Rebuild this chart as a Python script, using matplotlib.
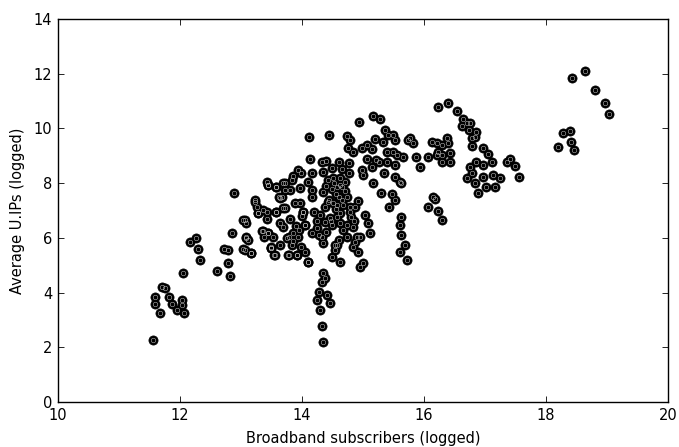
import matplotlib
matplotlib.use("Agg")
import matplotlib.pyplot as plt

# Broadband subscribers (logged)
subscribers = [
    11.56, 11.59, 11.59, 11.67, 11.70, 11.75, 11.82, 11.87, 11.95, 12.03,
    12.03, 12.07, 12.05, 12.16, 12.26, 12.30, 12.33, 12.60, 12.72, 12.79,
    12.79, 12.82, 12.85, 12.89, 13.04, 13.08, 13.09, 13.11, 13.04, 13.16,
    13.23, 13.26, 13.28, 13.36, 13.42, 13.42, 13.44, 13.36, 13.44, 13.50,
    13.54, 13.58, 13.58, 13.62, 13.69, 13.72, 13.77, 13.91, 14.02, 14.05,
    14.10,
    # central mass
    15.16, 15.28, 14.94, 14.12, 14.44, 14.74, 14.79, 14.76, 14.84, 14.98,
    15.06, 15.14, 15.20, 15.33, 15.36, 15.41, 15.50, 15.52, 15.74, 15.39,
    15.50, 15.55, 15.66, 15.06, 15.22, 15.27, 15.39, 15.52, 14.13, 14.32,
    14.39, 14.49, 14.60, 14.65, 14.77, 14.77, 14.35, 14.17, 13.94, 13.99,
    13.86, 13.83, 14.98, 15.00, 15.14, 15.34, 15.52, 15.60, 15.17, 15.30,
    15.47, 15.52, 15.43, 13.44, 13.58, 13.69, 13.72, 13.80, 13.97, 14.10,
    14.16, 14.16, 14.35, 14.43, 14.51, 14.62, 14.57, 13.67, 13.64, 13.23,
    13.28, 13.42, 13.07, 13.58, 13.72, 13.89, 13.97, 14.02, 14.30, 14.38,
    14.43, 14.51, 14.60, 14.65, 14.68, 14.73, 14.79, 14.87, 14.79, 14.81,
    15.03, 14.57, 14.46, 14.38, 14.49, 14.62, 14.73, 14.84, 15.09, 15.11,
    14.95, 14.90, 14.73, 14.60, 14.54, 14.24, 14.32, 14.16, 14.05, 13.94,
    13.86, 13.78, 13.69, 13.64, 13.53, 13.45, 13.34, 13.37, 13.09, 13.64,
    13.83, 13.99, 13.50, 15.60, 15.63, 15.69,
    # extra points in the dense block
    14.50, 14.55, 14.62, 14.70, 14.45, 14.58, 14.66, 14.52, 14.40, 14.70,
    14.63, 14.48, 14.56, 13.75, 13.85, 13.95, 13.80, 13.90, 14.00, 14.20,
    14.25, 14.40, 14.28, 14.68, 14.85, 14.92,
    # vertical tail near 14.3
    14.35, 14.32, 14.38, 14.28, 14.41, 14.24, 14.46, 14.30, 14.32, 14.35,
    14.10, 14.95, 15.00, 15.60, 15.72, 13.07, 13.17, 13.50, 13.56, 13.78,
    13.91, 14.05, 14.35, 14.57, 14.54, 14.49, 14.62, 14.84, 14.92, 14.87,
    # right group
    16.23, 16.40, 16.54, 16.64, 16.70, 16.62, 16.75, 16.73, 16.86, 16.78,
    16.84, 16.78, 15.77, 15.82, 16.13, 16.21, 16.29, 16.37, 16.40, 16.23,
    16.29, 16.43, 16.21, 16.29, 16.43, 16.07, 15.87, 15.93, 16.96, 17.05,
    16.86, 16.97, 17.11, 16.75, 16.78, 16.70, 16.84, 16.97, 17.13, 17.25,
    17.02, 17.16, 16.89, 17.36, 17.41, 17.49, 17.55, 16.15, 16.18, 16.07,
    16.23, 16.29, 15.63, 15.63,
    # far right
    18.64, 18.43, 18.81, 18.96, 19.04, 18.28, 18.39, 18.41, 18.20, 18.46,
]

# Average U.IPs (logged)
avg_ips = [
    2.27, 3.85, 3.60, 3.24, 4.21, 4.16, 3.85, 3.58, 3.36, 3.73,
    3.55, 3.24, 4.71, 5.86, 6.00, 5.60, 5.19, 4.80, 5.59, 5.55,
    5.08, 4.60, 6.19, 7.65, 6.65, 6.53, 6.04, 5.92, 5.59, 5.44,
    7.32, 7.14, 6.92, 7.02, 6.69, 8.05, 7.93, 6.24, 6.19, 5.64,
    5.37, 7.87, 6.96, 7.50, 7.09, 8.00, 5.37, 5.37, 6.96, 6.47,
    5.13,
    10.45, 10.33, 10.24, 9.67, 9.76, 9.72, 9.56, 9.27, 9.15, 9.27,
    9.39, 9.23, 9.61, 9.52, 9.94, 9.76, 9.76, 9.58, 9.58, 9.15,
    9.15, 9.03, 8.97, 8.90, 8.84, 8.78, 8.78, 8.66, 8.87, 8.78,
    8.82, 8.54, 8.78, 8.50, 8.75, 8.38, 8.42, 8.38, 8.48, 8.36,
    8.26, 8.11, 8.48, 8.30, 8.58, 8.36, 8.24, 8.05, 7.99, 7.63,
    7.60, 7.38, 7.14, 7.93, 7.87, 8.02, 7.75, 7.75, 7.81, 8.05,
    7.75, 7.50, 7.69, 8.11, 8.17, 8.17, 7.87, 7.50, 7.44, 7.38,
    6.90, 6.96, 6.65, 6.96, 7.08, 7.26, 7.26, 6.96, 6.84, 7.14,
    7.32, 7.26, 7.50, 7.38, 7.20, 7.50, 7.14, 7.14, 6.96, 6.77,
    6.84, 6.77, 6.71, 6.59, 6.47, 6.53, 6.47, 6.41, 6.53, 6.16,
    6.04, 6.04, 6.04, 5.92, 5.74, 6.35, 6.04, 6.16, 6.47, 6.04,
    6.16, 6.04, 6.41, 6.53, 6.04, 6.16, 6.24, 6.04, 5.98, 5.74,
    5.74, 5.68, 5.68, 6.47, 6.10, 5.74,
    7.80, 7.60, 7.95, 7.70, 7.40, 7.20, 7.85, 8.00, 7.90, 8.05,
    6.90, 6.60, 7.05, 6.00, 5.90, 6.30, 6.70, 6.45, 6.80, 6.95,
    6.60, 6.20, 6.10, 6.30, 6.60, 7.35,
    4.70, 4.40, 4.52, 4.03, 3.91, 3.73, 3.61, 3.36, 2.78, 2.20,
    5.13, 4.95, 5.07, 5.49, 5.19, 5.55, 5.44, 5.62, 5.37, 5.37,
    5.37, 5.49, 5.80, 5.74, 5.55, 5.31, 5.13, 5.68, 5.49, 5.86,
    10.79, 10.94, 10.65, 10.33, 10.19, 10.09, 10.19, 9.94, 9.88, 9.64,
    9.70, 9.36, 9.64, 9.48, 9.52, 9.45, 9.39, 9.64, 9.45, 9.15,
    9.03, 9.09, 9.03, 8.78, 8.78, 8.97, 8.97, 8.58, 9.27, 9.06,
    8.78, 8.66, 8.78, 8.58, 8.36, 8.17, 7.99, 8.21, 8.30, 8.17,
    7.87, 7.85, 7.63, 8.78, 8.87, 8.63, 8.21, 7.50, 7.41, 7.11,
    6.99, 6.65, 7.99, 6.77,
    12.11, 11.84, 11.40, 10.94, 10.54, 9.82, 9.89, 9.52, 9.31, 9.20,
]

plt.rcParams["font.family"] = "DejaVu Sans"
fig = plt.figure(figsize=(6.79, 4.47), dpi=100)
ax = fig.add_axes([0.0854, 0.1007, 0.8984, 0.8568])

# black disc, thin light ring inside, like the old scatter markers
ax.plot(subscribers, avg_ips, "o", ms=6.6, mfc="black", mec="black", mew=0.5, ls="none")
ax.plot(subscribers, avg_ips, "o", ms=3.3, mfc="none", mec="0.8", mew=0.35, ls="none")

ax.set_xlim(10, 20)
ax.set_ylim(0, 14)
ax.set_xticks(range(10, 21, 2))
ax.set_yticks(range(0, 15, 2))
ax.tick_params(direction="in", length=4, width=0.6, top=True, right=True,
               labelsize=10.5, pad=4)
for s in ax.spines.values():
    s.set_linewidth(1.0)

ax.set_xlabel("Broadband subscribers (logged)", fontsize=10.5, labelpad=6)
ax.set_ylabel("Average U.IPs (logged)", fontsize=10.5, labelpad=6)

plt.savefig("out.png", dpi=100)
